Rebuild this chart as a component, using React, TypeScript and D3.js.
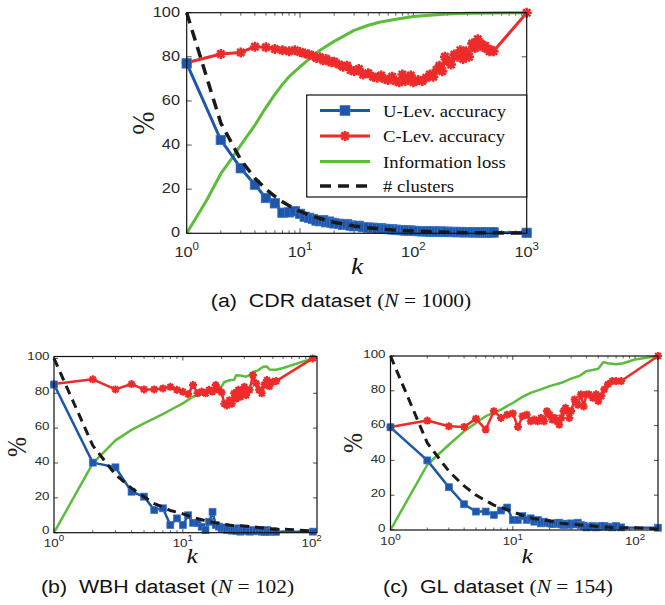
import React from "react";
import * as d3 from "d3";

// ---------- DATA ----------
// (a) CDR dataset
const kA = [1,2,3,4,5,6,7,8,9,10,11,12,13,14,15,16,17,18,19,20,22,24,26,28,30,33,36,40,44,48,52,56,60,65,70,75,80,85,90,95,100,110,120,130,140,150,160,170,180,190,200,215,230,245,260,275,290,310,330,350,370,390,410,430,450,470,490,510,1000];
const uLevA = [77,42.3,29.5,22,16,13.6,9.3,9.5,10,8.8,7.5,7,6.5,5.8,5.5,6,5,5.3,4.8,4.5,4.3,3.8,4.2,3.5,3.2,3.4,2.8,2.6,2.5,2.2,2.3,2,1.9,1.8,1.6,1.5,1.4,1.3,1.2,1.2,1.1,1,0.9,0.9,0.8,0.8,0.7,0.8,0.7,0.6,0.7,0.6,0.6,0.5,0.6,0.5,0.5,0.5,0.5,0.4,0.5,0.4,0.5,0.4,0.4,0.5,0.4,0.4,0.2];
const cLevA = [77.3,81.3,82,84.6,84.3,83.5,83,82.5,83,82.2,81.5,81,80.5,79.5,79.8,78.5,79,78,77.5,77.8,76.5,75.5,76,74,73.5,74.5,72,72.5,71,70.5,71.5,70,69.5,71,69,68.5,72,69,70,71.5,68.5,69.5,69,70.5,72,71,74,76,73.5,80,78,76.5,81,80,83,79,82.5,80,86,84,88,86,84.5,85,83.5,82.5,83,82.5,100];
const kInfoA = [1,1.5,2,2.5,3,4,5,6,7,8,10,12,15,20,30,40,50,70,100,150,200,300,500,1000];
const infoA = [0,15,27,34,40,49,57,63,67.5,71,75.5,79,83,87,92,94.3,95.7,97,98.3,99,99.4,99.7,99.9,100];
const kClA = [1,2,3,4,5,6,7,8,10,12,15,20,25,30,40,50,70,100,150,200,300,500,1000];
const clA = [100,50,33.3,25,20,16.7,14.3,12.5,10,8.3,6.7,5,4,3.3,2.5,2,1.4,1,0.7,0.5,0.3,0.2,0.1];

// (b) WBH dataset
const kB = [1,2,3,4,5,6,7,8,9,10,11,12,13,14,15,16,17,18,19,20,21,22,23,24,25,26,27,28,29,30,31,33,35,37,39,41,43,45,47,50,53,102];
const uLevB = [85,40.2,37.5,23.5,20.7,13,14,4.4,8.2,4.4,10,5.7,5.5,3.4,1.5,6.3,12,4.4,3.5,2.5,3,1.5,2.5,1.2,2,1,2.5,0.6,1.5,1,2,0.6,1.5,0.8,1.5,0.6,0.5,1.5,0.5,1,0.5,0.6];
const cLevB = [85.3,88,82.2,85.3,82.2,82.2,82.8,83.7,82,80.9,79.5,84.7,80,81,80,82,81,84.7,82,80.5,74,73,76,74,80,77,82,78,80,83.7,79,82,90.4,85.7,82,80,85,87.6,84,86.6,87,100];
const kInfoB = [1,2,3,4,5,6,7,8,10,12,14,16,17,18,20,21,23,25,26,29,31,33,35,38,42,45,47,53,60,102];
const infoB = [0,39.8,53,59,62.7,65.6,68,70.4,74.2,78,80,81.5,82,81.5,84,86.5,87.5,87.8,90.4,90,89.5,90.4,92.3,93,95.2,95.3,93.7,93.5,94.5,100];
const kClB = [1,2,3,4,5,6,7,8,9,10,12,15,20,25,30,40,50,60,102];
const clB = [100,50,33.3,25.5,20.6,16.7,14.7,12.7,11.8,10.8,8.8,6.9,4.9,4,3.9,2.9,2,2,1];

// (c) GL dataset
const kC = [1,2,3,4,5,6,7,8,9,10,11,12,13,14,15,16,17,18,19,20,21,22,23,24,25,26,27,28,29,30,32,34,36,38,40,42,45,48,50,53,56,60,65,70,77,154];
const uLevC = [59,40,24.6,14.8,10.6,10.6,8.7,11.2,12.9,5.8,5.8,8,5.8,6.7,4.8,5.8,3.8,4.8,4.2,3.8,3.5,3.5,4,4.2,3.2,2.8,3.6,3.5,3,3.8,3.2,4.2,2.8,2.5,1.5,1.9,2.3,1.5,1.7,2.4,2.3,1.9,1.5,2.3,1.5,1.3];
const cLevC = [59.2,62.9,59.6,59.2,64,57.7,68.3,64.4,66.3,67,59.2,65.4,66.3,62.5,63.5,62.5,64.4,62.5,68.3,66.3,63.5,64.4,62.5,60.6,64.4,68.3,70.2,68.3,64.4,68.3,75,72,77.9,71,77.9,77.9,76,78,74,77,80.8,83.7,85.6,85.6,85.6,100];
const kInfoC = [1,2,3,4,5,6,7,8,10,12,14,17,20,25,30,35,40,45,50,55,60,70,80,100,154];
const infoC = [0,37.5,49,56.7,61.5,65.4,67.3,69.2,73,76.5,78.8,80.8,82.7,84.6,87,88.5,91.3,92,92.7,96.5,95.8,95.2,95.8,98,100];
const kClC = [1,2,3,4,5,6,7,8,9,10,12,15,20,25,30,40,50,70,100,154];
const clC = [100,50,33.8,25.3,20.1,16.9,14.3,13,11.7,10.4,8.4,6.5,5.2,3.9,3.3,2.6,2,1.3,1.3,0.6];

const yTicks = [0, 20, 40, 60, 80, 100];
const legendLabels = ["U-Lev. accuracy", "C-Lev. accuracy", "Information loss", "# clusters"];

const BLUE = "#1d56ab";
const RED = "#ee2b2b";
const GREEN = "#5cbd3c";
const BLACK = "#1a1a1a";
const SANS = "Liberation Sans, Arial, sans-serif";
const SERIF = "Liberation Serif, Times New Roman, serif";
const SX = 1.15; // horizontal stretch of the text in the reference

type Pt = [number, number];
const zip = (ks: number[], vs: number[]): Pt[] => ks.map((k, i) => [k, vs[i]]);

function asterPath(r: number) {
  const d = r * 0.72;
  return `M${-r},0L${r},0M0,${-r}L0,${r}M${-d},${-d}L${d},${d}M${-d},${d}L${d},${-d}`;
}

type PanelProps = {
  x0: number; x1: number; y0: number; y1: number;
  xmax: number; ymax: number;
  exps: number[];
  u: Pt[]; c: Pt[]; info: Pt[]; cl: Pt[];
  tickFont: number; supFont: number; supDy: number;
  yLabelX: number; yLabelDy: number; xLabelBase: number;
  sq: number; ast: number; lw: number; dash: [number, number]; dlw: number;
  tickLen: number; minorLen: number;
  pct: [number, number, number]; kPos: [number, number, number];
  legend?: boolean;
};

function Panel(p: PanelProps) {
  const x = d3.scaleLog().domain([1, p.xmax]).range([p.x0, p.x1]);
  const y = d3.scaleLinear().domain([0, p.ymax]).range([p.y1, p.y0]);
  const line = d3.line<Pt>().x(d => x(d[0])).y(d => y(d[1]));
  const minors: number[] = [];
  for (let e = 0; e < 4; e++) for (let m = 2; m <= 9; m++) { const v = m * Math.pow(10, e); if (v < p.xmax) minors.push(v); }
  const majors = p.exps.map(e => Math.pow(10, e));
  const tickColor = "#222";
  return (
    <g>
      <rect x={p.x0} y={p.y0} width={p.x1 - p.x0} height={p.y1 - p.y0} fill="white" />
      {yTicks.map(t => (
        <g key={"yt" + t}>
          <line x1={p.x0} x2={p.x0 + p.tickLen} y1={y(t)} y2={y(t)} stroke={tickColor} strokeWidth={0.8} />
          <line x1={p.x1} x2={p.x1 - p.tickLen} y1={y(t)} y2={y(t)} stroke={tickColor} strokeWidth={0.8} />
          <text transform={`translate(${p.yLabelX},${y(t) + p.yLabelDy}) scale(${SX},1)`} textAnchor="end" dominantBaseline="central" fontFamily={SANS} fontSize={p.tickFont} fill="#2a2a2a">{t}</text>
        </g>
      ))}
      {minors.map(v => (
        <g key={"mn" + v}>
          <line x1={x(v)} x2={x(v)} y1={p.y1} y2={p.y1 - p.minorLen} stroke={tickColor} strokeWidth={0.7} />
          <line x1={x(v)} x2={x(v)} y1={p.y0} y2={p.y0 + p.minorLen} stroke={tickColor} strokeWidth={0.7} />
        </g>
      ))}
      {majors.map((v, i) => (
        <g key={"mj" + v}>
          <line x1={x(v)} x2={x(v)} y1={p.y1} y2={p.y1 - p.tickLen} stroke={tickColor} strokeWidth={0.8} />
          <line x1={x(v)} x2={x(v)} y1={p.y0} y2={p.y0 + p.tickLen} stroke={tickColor} strokeWidth={0.8} />
          <text transform={`translate(${x(v)},${p.xLabelBase}) scale(${SX},1)`} textAnchor="middle" fontFamily={SANS} fontSize={p.tickFont} fill="#2a2a2a">
            <tspan>10</tspan><tspan dy={p.supDy} fontSize={p.supFont}>{p.exps[i]}</tspan>
          </text>
        </g>
      ))}
      <path d={line(p.info) || ""} fill="none" stroke={GREEN} strokeWidth={p.lw} strokeLinejoin="round" />
      <path d={line(p.c) || ""} fill="none" stroke={RED} strokeWidth={p.lw} strokeLinejoin="round" />
      {p.c.map((d, i) => (
        <path key={"cm" + i} d={asterPath(p.ast)} transform={`translate(${x(d[0])},${y(d[1])})`} stroke={RED} strokeWidth={p.lw * 0.85} fill="none" />
      ))}
      <path d={line(p.u) || ""} fill="none" stroke={BLUE} strokeWidth={p.lw} strokeLinejoin="round" />
      {p.u.map((d, i) => (
        <rect key={"um" + i} x={x(d[0]) - p.sq / 2} y={y(d[1]) - p.sq / 2} width={p.sq} height={p.sq} fill={BLUE} stroke="#3d74c6" strokeWidth={0.7} />
      ))}
      <path d={line(p.cl) || ""} fill="none" stroke={BLACK} strokeWidth={p.dlw} strokeDasharray={`${p.dash[0]},${p.dash[1]}`} />
      <rect x={p.x0} y={p.y0} width={p.x1 - p.x0} height={p.y1 - p.y0} fill="none" stroke="#111" strokeWidth={1.2} />
      <text transform={`translate(${p.pct[0]},${p.pct[1]}) rotate(-90) scale(1,${SX})`} textAnchor="middle" dominantBaseline="central" fontFamily={SERIF} fontSize={p.pct[2]} fill="#222">%</text>
      <text transform={`translate(${p.kPos[0]},${p.kPos[1]}) scale(${SX},1)`} textAnchor="middle" fontFamily={SERIF} fontStyle="italic" fontSize={p.kPos[2]} fill="#111">k</text>
      {p.legend && <Legend />}
    </g>
  );
}

function Legend() {
  const lx = 306.7, ly = 95, lw = 220, lh = 102;
  const rows = [110.5, 136, 161.5, 186];
  const sx0 = 320, sx1 = 370, tx = 383;
  return (
    <g>
      <rect x={lx} y={ly} width={lw} height={lh} fill="white" stroke="#111" strokeWidth={1.2} />
      <line x1={sx0} x2={sx1} y1={rows[0]} y2={rows[0]} stroke={BLUE} strokeWidth={3.2} />
      <rect x={(sx0 + sx1) / 2 - 5} y={rows[0] - 5} width={10} height={10} fill={BLUE} stroke="#3d74c6" strokeWidth={0.7} />
      <line x1={sx0} x2={sx1} y1={rows[1]} y2={rows[1]} stroke={RED} strokeWidth={3.2} />
      <path d={asterPath(5)} transform={`translate(${(sx0 + sx1) / 2},${rows[1]})`} stroke={RED} strokeWidth={2.7} />
      <line x1={sx0} x2={sx1} y1={rows[2]} y2={rows[2]} stroke={GREEN} strokeWidth={3.2} />
      <line x1={sx0} x2={sx1} y1={rows[3]} y2={rows[3]} stroke={BLACK} strokeWidth={3.5} strokeDasharray="11,7" />
      {legendLabels.map((t, i) => (
        <text key={t} transform={`translate(${tx},${rows[i] + 6}) scale(1.06,1)`} fontFamily={SERIF} fontSize={17.6} fill="#111">{t}</text>
      ))}
    </g>
  );
}

function Caption({ x, y, tag, name, n }: { x: number; y: number; tag: string; name: string; n: string }) {
  return (
    <text transform={`translate(${x},${y}) scale(${SX},1)`} textAnchor="middle" fontFamily={SANS} fontSize={18.6} fill="#111" style={{ whiteSpace: "pre" }}>
      {`(${tag})  ${name} dataset `}
      <tspan fontFamily={SERIF}>(</tspan>
      <tspan fontFamily={SERIF} fontStyle="italic">N</tspan>
      <tspan fontFamily={SERIF}>{`\u2005=\u2005${n})`}</tspan>
    </text>
  );
}

export default function App() {
  return (
    <svg width={665} height={605} style={{ position: "absolute", left: 0, top: 0, background: "white" }}>
      <rect x={0} y={0} width={665} height={605} fill="white" />
      <Panel x0={186.7} x1={526.7} y0={12.7} y1={233.3} xmax={1000} ymax={100} exps={[0, 1, 2, 3]}
        u={zip(kA, uLevA)} c={zip(kA, cLevA)} info={zip(kInfoA, infoA)} cl={zip(kClA, clA)}
        tickFont={14.2} supFont={10} supDy={-7} yLabelX={180} yLabelDy={-1} xLabelBase={257}
        sq={9.5} ast={5} lw={3} dash={[11, 7]} dlw={3.5} tickLen={5} minorLen={3}
        pct={[143, 123, 28]} kPos={[357, 274, 24]} legend />
      <Caption x={341} y={306.5} tag="a" name="CDR" n="1000" />
      <Panel x0={54} x1={317} y0={356.5} y1={532.7} xmax={110} ymax={101.1} exps={[0, 1, 2]}
        u={zip(kB, uLevB)} c={zip(kB, cLevB)} info={zip(kInfoB, infoB)} cl={zip(kClB, clB)}
        tickFont={11.6} supFont={8.5} supDy={-5.5} yLabelX={49.5} yLabelDy={-2} xLabelBase={546.5}
        sq={7} ast={4} lw={2.5} dash={[9, 6]} dlw={3} tickLen={4} minorLen={2.5}
        pct={[17, 447, 24]} kPos={[192, 563, 22]} />
      <Caption x={167.5} y={593} tag="b" name="WBH" n="102" />
      <Panel x0={390.5} x1={658} y0={356} y1={530} xmax={154} ymax={100} exps={[0, 1, 2]}
        u={zip(kC, uLevC)} c={zip(kC, cLevC)} info={zip(kInfoC, infoC)} cl={zip(kClC, clC)}
        tickFont={11.6} supFont={8.5} supDy={-5.5} yLabelX={385.5} yLabelDy={-1.5} xLabelBase={545}
        sq={7} ast={4} lw={2.5} dash={[9, 6]} dlw={3} tickLen={4} minorLen={2.5}
        pct={[353, 443, 24]} kPos={[527, 563, 22]} />
      <Caption x={498} y={593} tag="c" name="GL" n="154" />
    </svg>
  );
}
